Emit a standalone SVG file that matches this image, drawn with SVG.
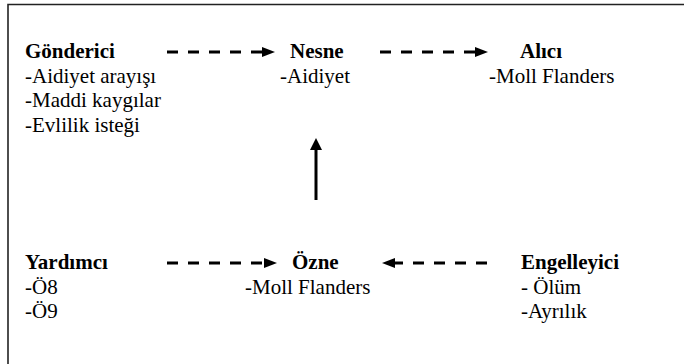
<svg xmlns="http://www.w3.org/2000/svg" width="684" height="364" viewBox="0 0 684 364">
<defs>
<marker id="head" markerUnits="userSpaceOnUse" markerWidth="14" markerHeight="12" refX="0" refY="5" orient="auto">
<path d="M0,0 L13,5 L0,10 z" fill="#000"/>
</marker>
<marker id="vhead" markerUnits="userSpaceOnUse" markerWidth="14" markerHeight="14" refX="0" refY="6" orient="auto">
<path d="M0,0 L12,6 L0,12 z" fill="#000"/>
</marker>
</defs>
<rect x="0" y="0" width="684" height="364" fill="#fff"/>
<path d="M8,366 L8,4.5 L686,4.5" stroke="#222" stroke-width="1.6" fill="none"/>
<g id="connectors" stroke="#000" stroke-width="3" fill="none">
<line stroke-dasharray="11 10" x1="167" y1="52" x2="262" y2="52" marker-end="url(#head)"/>
<line stroke-dasharray="11 10" x1="380" y1="52" x2="475" y2="52" marker-end="url(#head)"/>
<line stroke-dasharray="11 10" x1="167" y1="263" x2="264" y2="263" marker-end="url(#head)"/>
<line stroke-dasharray="11 10" x1="487" y1="263" x2="395" y2="263" marker-end="url(#head)"/>
<line x1="316" y1="200" x2="316" y2="150" marker-end="url(#vhead)"/>
</g>
<g id="gonderici">
<text font-family="Liberation Serif" font-size="21" font-weight="bold" x="25" y="58">Gönderici</text>
<text font-family="Liberation Serif" font-size="21" x="25" y="83">-Aidiyet arayışı</text>
<text font-family="Liberation Serif" font-size="21" x="25" y="107">-Maddi kaygılar</text>
<text font-family="Liberation Serif" font-size="21" x="25" y="132">-Evlilik isteği</text>
</g>
<g id="nesne">
<text font-family="Liberation Serif" font-size="21" font-weight="bold" x="290" y="58">Nesne</text>
<text font-family="Liberation Serif" font-size="21" x="280" y="83">-Aidiyet</text>
</g>
<g id="alici">
<text font-family="Liberation Serif" font-size="21" font-weight="bold" x="520" y="58">Alıcı</text>
<text font-family="Liberation Serif" font-size="21" x="489" y="83">-Moll Flanders</text>
</g>
<g id="yardimci">
<text font-family="Liberation Serif" font-size="21" font-weight="bold" x="25" y="269">Yardımcı</text>
<text font-family="Liberation Serif" font-size="21" x="25" y="294">-Ö8</text>
<text font-family="Liberation Serif" font-size="21" x="25" y="318">-Ö9</text>
</g>
<g id="ozne">
<text font-family="Liberation Serif" font-size="21" font-weight="bold" x="292" y="269">Özne</text>
<text font-family="Liberation Serif" font-size="21" x="245" y="294">-Moll Flanders</text>
</g>
<g id="engelleyici">
<text font-family="Liberation Serif" font-size="21" font-weight="bold" x="521" y="269">Engelleyici</text>
<text font-family="Liberation Serif" font-size="21" x="521" y="294">- Ölüm</text>
<text font-family="Liberation Serif" font-size="21" x="521" y="318">-Ayrılık</text>
</g>
</svg>
